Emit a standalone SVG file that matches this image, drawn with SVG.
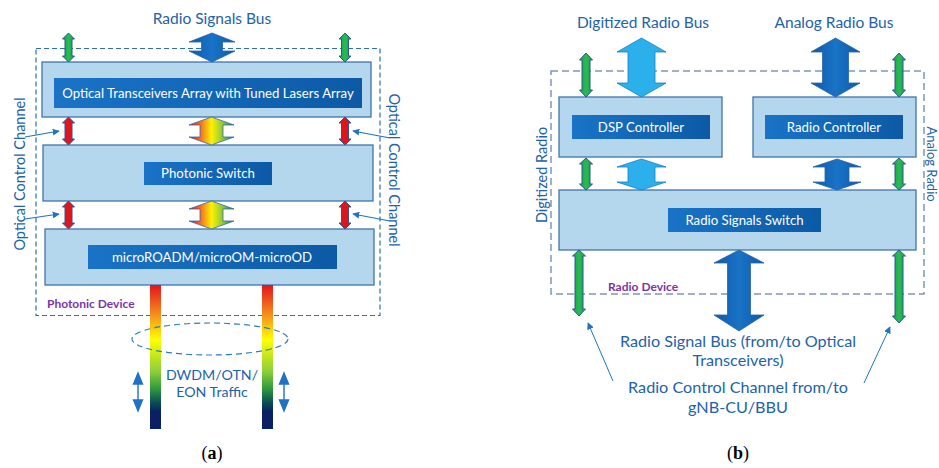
<svg xmlns="http://www.w3.org/2000/svg" width="939" height="468" viewBox="0 0 939 468">
  <style>
    .lbl { font-family: Lato, "Liberation Sans", sans-serif; fill: #2262aa; }
    .inner-t { font-family: Lato, "Liberation Sans", sans-serif; fill: #ffffff; font-size: 13.2px; text-anchor: middle; }
    .outer { fill: #b5d7ee; stroke: #3f74ad; stroke-width: 1.3; }
    .inner { fill: url(#innerGrad); }
    .dev { font-family: Lato, "Liberation Sans", sans-serif; font-weight: bold; fill: #7a35a8; font-size: 12px; }
    .green { fill: url(#greenGrad); stroke: #2f5597; stroke-width: 1; }
    .red { fill: #e0141b; stroke: #2f5597; stroke-width: 1; }
    .rainbow { fill: url(#rainbowGrad); stroke: #3a66a8; stroke-width: 0.8; }
    .bigblue { fill: url(#blueGrad); stroke: #2a62a8; stroke-width: 0.8; }
    .cyan { fill: #2bb0ec; stroke: #1a7cc4; stroke-width: 0.8; }
    .ptr { stroke: #1f72c4; stroke-width: 1.2; fill: none; }
    .updown { fill: #1f72c4; stroke: #1f72c4; stroke-width: 1.4; }
    .cap { font-family: "Liberation Serif", serif; font-size: 18px; fill: #000; }
  </style>
  <defs>
    <linearGradient id="innerGrad" x1="0" y1="0" x2="1" y2="0">
      <stop offset="0" stop-color="#1a73c7"/>
      <stop offset="1" stop-color="#0c5aa6"/>
    </linearGradient>
    <linearGradient id="blueGrad" x1="0" y1="0" x2="1" y2="0">
      <stop offset="0" stop-color="#0b5aa8"/>
      <stop offset="0.5" stop-color="#1a73c6"/>
      <stop offset="1" stop-color="#0b5aa8"/>
    </linearGradient>
    <linearGradient id="greenGrad" x1="0" y1="0" x2="1" y2="0">
      <stop offset="0" stop-color="#12a046"/>
      <stop offset="0.5" stop-color="#2bbb55"/>
      <stop offset="1" stop-color="#12a046"/>
    </linearGradient>
    <linearGradient id="rainbowGrad" x1="0" y1="0" x2="1" y2="0">
      <stop offset="0" stop-color="#d9121b"/>
      <stop offset="0.28" stop-color="#f47b20"/>
      <stop offset="0.5" stop-color="#fff200"/>
      <stop offset="0.75" stop-color="#8cc63f"/>
      <stop offset="1" stop-color="#0e9347"/>
    </linearGradient>
    <linearGradient id="trafficGrad" x1="0" y1="0" x2="0" y2="1">
      <stop offset="0" stop-color="#e3141b"/>
      <stop offset="0.2" stop-color="#f58a1f"/>
      <stop offset="0.38" stop-color="#ffff00"/>
      <stop offset="0.6" stop-color="#8ccf3a"/>
      <stop offset="0.72" stop-color="#2f9a3e"/>
      <stop offset="0.82" stop-color="#0a4a55"/>
      <stop offset="0.88" stop-color="#0b1f63"/>
      <stop offset="1" stop-color="#0b1f63"/>
    </linearGradient>
    <marker id="ptrHead" viewBox="0 0 10 10" refX="9" refY="5" markerWidth="7" markerHeight="7" orient="auto" markerUnits="userSpaceOnUse">
      <path d="M0,0 L10,5 L0,10 Z" fill="#1f72c4"/>
    </marker>
  </defs>

  <!-- ===== (a) Photonic device ===== -->
  <text class="lbl" x="212" y="24" font-size="15.5" text-anchor="middle">Radio Signals Bus</text>

  <g id="photonic-device">
    <rect x="36" y="48.5" width="344" height="267" fill="none" stroke="#2e6fae" stroke-width="1.2" stroke-dasharray="5,3"/>
    <text class="dev" x="47" y="308">Photonic Device</text>
  </g>

  <g id="optical-transceivers">
    <rect class="outer" x="42" y="62" width="329" height="55"/>
    <rect class="inner" x="54" y="78" width="308" height="30"/>
    <text class="inner-t" x="208" y="97.5">Optical Transceivers Array with Tuned Lasers Array</text>
  </g>

  <g id="photonic-switch">
    <rect class="outer" x="43" y="145" width="330" height="56"/>
    <rect class="inner" x="144" y="162" width="128" height="23"/>
    <text class="inner-t" x="208" y="178">Photonic Switch</text>
  </g>

  <g id="micro-roadm">
    <rect class="outer" x="45" y="229" width="329" height="56"/>
    <rect class="inner" x="88" y="245" width="249" height="24"/>
    <text class="inner-t" x="212" y="261.5">microROADM/microOM-microOD</text>
  </g>

  <g id="traffic">
    <rect x="150" y="285" width="11" height="144" fill="url(#trafficGrad)"/>
    <rect x="262" y="285" width="11" height="144" fill="url(#trafficGrad)"/>
    <ellipse cx="210" cy="339" rx="78" ry="16" fill="none" stroke="#2a7bc8" stroke-width="1.2" stroke-dasharray="6,4"/>
    <text class="lbl" x="212" y="380" font-size="14.2" text-anchor="middle">DWDM/OTN/</text>
    <text class="lbl" x="212" y="397" font-size="14.2" text-anchor="middle">EON Traffic</text>
  </g>

  <text class="lbl" font-size="14.5" text-anchor="middle" transform="translate(25,174) rotate(-90)">Optical Control Channel</text>
  <text class="lbl" font-size="14.5" text-anchor="middle" transform="translate(389,170) rotate(90)">Optical Control Channel</text>

  <g id="connectors-a">
    <!-- radio bus into transceivers -->
    <path class="green" d="M68.5,33 L74.5,39 L72,39 L72,56 L74.5,56 L68.5,62 L62.5,56 L65,56 L65,39 L62.5,39 Z"/>
    <path class="green" d="M345,33 L351,39 L348.5,39 L348.5,56 L351,56 L345,62 L339,56 L341.5,56 L341.5,39 L339,39 Z"/>
    <path class="bigblue" d="M212,33 L235,42 L222.5,42 L222.5,51 L235,51 L212,62 L189,51 L201.5,51 L201.5,42 L189,42 Z"/>
    <!-- transceivers to switch -->
    <path class="red" d="M68.5,117 L74.5,123 L72,123 L72,139 L74.5,139 L68.5,145 L62.5,139 L65,139 L65,123 L62.5,123 Z"/>
    <path class="red" d="M345,117 L351,123 L348.5,123 L348.5,139 L351,139 L345,145 L339,139 L341.5,139 L341.5,123 L339,123 Z"/>
    <path class="rainbow" d="M211.5,117 L234,125 L223,125 L223,137 L234,137 L211.5,145 L189,137 L200,137 L200,125 L189,125 Z"/>
    <!-- switch to microROADM -->
    <path class="red" d="M68.5,201 L74.5,207 L72,207 L72,223 L74.5,223 L68.5,229 L62.5,223 L65,223 L65,207 L62.5,207 Z"/>
    <path class="red" d="M345,201 L351,207 L348.5,207 L348.5,223 L351,223 L345,229 L339,223 L341.5,223 L341.5,207 L339,207 Z"/>
    <path class="rainbow" d="M211.5,201 L234,209 L223,209 L223,221 L234,221 L211.5,229 L189,221 L200,221 L200,209 L189,209 Z"/>
    <!-- control channel pointers -->
    <line class="ptr" x1="25" y1="137" x2="59" y2="131" marker-end="url(#ptrHead)"/>
    <line class="ptr" x1="25" y1="219" x2="59" y2="214" marker-end="url(#ptrHead)"/>
    <line class="ptr" x1="390" y1="138" x2="353" y2="131" marker-end="url(#ptrHead)"/>
    <line class="ptr" x1="390" y1="221" x2="353" y2="214" marker-end="url(#ptrHead)"/>
    <!-- traffic direction -->
    <path class="updown" d="M138,373 L142.5,384 L133.5,384 Z M138,384 L138,400 M133.5,400 L142.5,400 L138,411 Z"/>
    <path class="updown" d="M284,373 L288.5,384 L279.5,384 Z M284,384 L284,400 M279.5,400 L288.5,400 L284,411 Z"/>
  </g>

  <text class="cap" x="212" y="459" text-anchor="middle">(<tspan font-weight="bold">a</tspan>)</text>

  <!-- ===== (b) Radio device ===== -->
  <text class="lbl" x="643" y="28" font-size="15.5" text-anchor="middle">Digitized Radio Bus</text>
  <text class="lbl" x="834" y="28" font-size="15.5" text-anchor="middle">Analog Radio Bus</text>

  <g id="radio-device">
    <rect x="551" y="71" width="373" height="223" fill="none" stroke="#7b98bd" stroke-width="1.5" stroke-dasharray="7,4"/>
    <text class="dev" x="608" y="291">Radio Device</text>
  </g>

  <g id="dsp-controller">
    <rect class="outer" x="559" y="97" width="163" height="60"/>
    <rect class="inner" x="572" y="115" width="138" height="24"/>
    <text class="inner-t" x="641" y="132">DSP Controller</text>
  </g>

  <g id="radio-controller">
    <rect class="outer" x="753" y="97" width="163" height="60"/>
    <rect class="inner" x="765" y="115" width="138" height="24"/>
    <text class="inner-t" x="834" y="132">Radio Controller</text>
  </g>

  <g id="radio-signals-switch">
    <rect class="outer" x="559" y="190" width="357" height="60"/>
    <rect class="inner" x="668" y="208" width="153" height="24"/>
    <text class="inner-t" x="744.5" y="225">Radio Signals Switch</text>
  </g>

  <text class="lbl" font-size="14.5" text-anchor="middle" transform="translate(547,175) rotate(-90)">Digitized Radio</text>
  <text class="lbl" font-size="13" text-anchor="middle" transform="translate(927,164) rotate(90)">Analog Radio</text>

  <text class="lbl" font-size="16.2" text-anchor="middle" x="738" y="347">Radio Signal Bus (from/to Optical</text>
  <text class="lbl" font-size="16.2" text-anchor="middle" x="738" y="366">Transceivers)</text>
  <text class="lbl" font-size="16.2" text-anchor="middle" x="738" y="393">Radio Control Channel from/to</text>
  <text class="lbl" font-size="16.2" text-anchor="middle" x="738" y="413">gNB-CU/BBU</text>

  <g id="connectors-b">
    <!-- buses into controllers -->
    <path class="green" d="M586,53 L592.5,60 L590,60 L590,90 L592.5,90 L586,97 L579.5,90 L582,90 L582,60 L579.5,60 Z"/>
    <path class="green" d="M899,53 L905.5,60 L903,60 L903,90 L905.5,90 L899,97 L892.5,90 L895,90 L895,60 L892.5,60 Z"/>
    <path class="cyan" d="M641.5,38 L666,52 L655,52 L655,83 L666,83 L641.5,97 L617,83 L628,83 L628,52 L617,52 Z"/>
    <path class="bigblue" d="M835.5,38 L860,52 L848.5,52 L848.5,83 L860,83 L835.5,97 L811,83 L822.5,83 L822.5,52 L811,52 Z"/>
    <!-- controllers to switch -->
    <path class="green" d="M586,158 L592.5,164 L590,164 L590,184 L592.5,184 L586,190 L579.5,184 L582,184 L582,164 L579.5,164 Z"/>
    <path class="green" d="M899,158 L905.5,164 L903,164 L903,184 L905.5,184 L899,190 L892.5,184 L895,184 L895,164 L892.5,164 Z"/>
    <path class="cyan" d="M641.5,159 L666,167 L655,167 L655,182 L666,182 L641.5,190 L617,182 L628,182 L628,167 L617,167 Z"/>
    <path class="bigblue" d="M837,159 L861,167 L849,167 L849,182 L861,182 L837,190 L813,182 L825,182 L825,167 L813,167 Z"/>
    <!-- switch outward -->
    <path class="green" d="M579,250 L585.5,256 L583,256 L583,309 L585.5,309 L579,316 L572.5,309 L575,309 L575,256 L572.5,256 Z"/>
    <path class="green" d="M899,250 L905.5,256 L903,256 L903,316 L905.5,316 L899,323 L892.5,316 L895,316 L895,256 L892.5,256 Z"/>
    <path class="bigblue" d="M739,250 L764,263 L750.5,263 L750.5,315 L764,315 L739,331 L714,315 L727.5,315 L727.5,263 L714,263 Z"/>
    <!-- control channel pointers -->
    <line x1="613" y1="381" x2="588" y2="323" stroke="#1f72c4" stroke-width="1" marker-end="url(#ptrHead)"/>
    <line x1="864" y1="383" x2="890" y2="327" stroke="#1f72c4" stroke-width="1" marker-end="url(#ptrHead)"/>
  </g>

  <text class="cap" x="738" y="459" text-anchor="middle">(<tspan font-weight="bold">b</tspan>)</text>
</svg>
